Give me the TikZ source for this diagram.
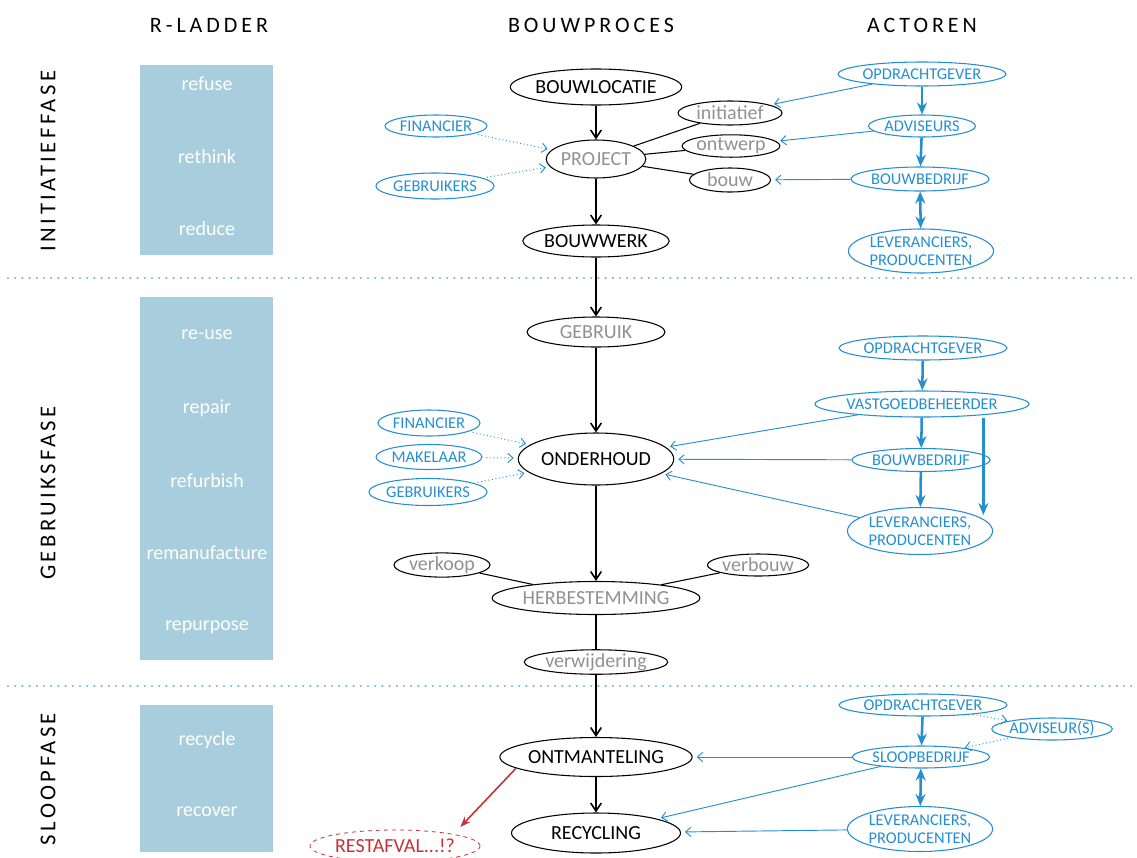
\documentclass[tikz,border=0pt]{standalone}
\usepackage{fontspec}
\setmainfont{Carlito}
\usetikzlibrary{arrows.meta,shapes.geometric}

\definecolor{actblue}{RGB}{36,143,208}
\definecolor{procgray}{RGB}{145,145,145}
\definecolor{ladderblue}{RGB}{168,206,221}
\definecolor{sepblue}{RGB}{120,182,210}
\definecolor{wastered}{RGB}{196,50,55}

\newfontfamily\spacedfont[LetterSpace=18]{Carlito}
\newfontfamily\phasefont[LetterSpace=15]{Carlito}

\begin{document}
\begin{tikzpicture}[x=0.75pt,y=-0.75pt,
	wd/.style={minimum width=#1*0.75pt},
	ht/.style={minimum height=#1*0.75pt},
	head/.style={font=\spacedfont\fontsize{16.5}{18}\selectfont},
	phase/.style={font=\phasefont\fontsize{17}{18}\selectfont,rotate=90},
	rung/.style={text=white,font=\fontsize{15}{16}\selectfont},
	stage/.style={ellipse,draw,line width=0.8pt,inner sep=0pt,font=\fontsize{15}{16}\selectfont},
	substage/.style={stage,text=procgray},
	actor/.style={ellipse,draw=actblue,line width=0.8pt,inner sep=0pt,text=actblue,align=center,font=\fontsize{12.3}{13.5}\selectfont},
	waste/.style={ellipse,draw=wastered,dashed,line width=0.6pt,inner sep=0pt,text=wastered,font=\fontsize{15}{16}\selectfont},
	flow/.style={line width=1.2pt,-{Straight Barb[length=6pt,width=8pt,line width=1.2pt]}},
	link/.style={line width=0.8pt},
	chain/.style={actblue,line width=1.9pt,-{Stealth[length=9pt,width=7.5pt]}},
	chainboth/.style={actblue,line width=1.9pt,{Stealth[length=9pt,width=7.5pt]}-{Stealth[length=9pt,width=7.5pt]}},
	role/.style={actblue,line width=0.7pt,-{Straight Barb[length=4pt,width=7pt]},shorten >=3pt},
	hint/.style={actblue,line width=0.7pt,dotted,-{Straight Barb[length=4pt,width=7pt]},shorten >=3pt,shorten <=3pt},
	separator/.style={sepblue,line width=1.8pt,line cap=round,dash pattern=on 0pt off 5.4pt}]

	\useasboundingbox (0,0) rectangle (1137,857);

	% kopjes
	\node[head] (hladder) at (209,25) {R-LADDER};
	\node[head] (hproces) at (591,25) {BOUWPROCES};
	\node[head] (hactor) at (922,25) {ACTOREN};

	\node[phase] (pinit) at (48,161) {INITIATIEFFASE};
	\node[phase] (pgebr) at (48,493) {GEBRUIKSFASE};
	\node[phase] (psloop) at (48,779) {SLOOPFASE};

	% scheidingslijnen
	\draw[separator] (8,278) -- (1137,278);
	\draw[separator] (8,686) -- (1137,686);

	% R-ladder
	\fill[ladderblue] (140,65) rectangle (273,255);
	\fill[ladderblue] (140,297) rectangle (273,660);
	\fill[ladderblue] (140,705) rectangle (273,852);
	\node[rung] (rrefuse) at (207,84) {refuse};
	\node[rung] (rrethink) at (207,157) {rethink};
	\node[rung] (rreduce) at (207,229) {reduce};
	\node[rung] (rreuse) at (207,335) {re-use};
	\node[rung] (rrepair) at (207,408) {repair};
	\node[rung] (rrefurb) at (207,481) {refurbish};
	\node[rung] (rreman) at (207,553) {remanufacture};
	\node[rung] (rrepurp) at (207,627) {repurpose};
	\node[rung] (rrecycle) at (207,740) {recycle};
	\node[rung] (rrecover) at (207,812) {recover};

	% bouwproces
	\node[stage,wd=138,ht=36] (locatie) at (596,87) {BOUWLOCATIE};
	\node[substage,wd=94,ht=38] (project) at (596,159) {PROJECT};
	\node[stage,wd=138,ht=32] (bouwwerk) at (596,241) {BOUWWERK};
	\node[substage,wd=138,ht=30] (gebruik) at (596,332) {GEBRUIK};
	\node[stage,wd=139,ht=52] (onderhoud) at (596,459) {ONDERHOUD};
	\node[substage,wd=196,ht=33] (herbest) at (596,598) {HERBESTEMMING};
	\node[substage,wd=124,ht=24] (verwijd) at (596,662) {verwijdering};
	\node[stage,wd=169,ht=39] (ontmant) at (596,757) {ONTMANTELING};
	\node[stage,wd=169,ht=40] (recycling) at (596,833) {RECYCLING};
	\node[waste,wd=170,ht=32] (restafval) at (395,846) {RESTAFVAL...!?};

	\node[substage,wd=104,ht=24] (initiatief) at (730,113) {initiatief};
	\node[substage,wd=94,ht=22] (ontwerp) at (731,146) {ontwerp};
	\node[substage,wd=81,ht=24] (bouw) at (730,180) {bouw};
	\node[substage,wd=96,ht=24] (verkoop) at (442,565) {verkoop};
	\node[substage,wd=95,ht=22] (verbouw) at (758,565) {verbouw};

	\draw[flow] (locatie) -- (project);
	\draw[flow] (project) -- (bouwwerk);
	\draw[flow] (bouwwerk) -- (gebruik);
	\draw[flow] (gebruik) -- (onderhoud);
	\draw[flow] (onderhoud) -- (herbest);
	\draw[link] (herbest) -- (verwijd);
	\draw[flow] (verwijd) -- (ontmant);
	\draw[flow] (ontmant) -- (recycling);
	\draw[wastered,line width=1.2pt,-{Stealth[length=8pt,width=6pt]}] (ontmant.188) -- ([xshift=49pt,yshift=2pt]restafval.north);

	\draw[link] (project) -- (initiatief);
	\draw[link] (project) -- (ontwerp);
	\draw[link] (project) -- (bouw);
	\draw[link] (herbest) -- (verkoop);
	\draw[link] (herbest) -- (verbouw);

	% actoren initiatieffase
	\node[actor,wd=99,ht=22] (financier) at (436,126) {FINANCIER};
	\node[actor,wd=100,ht=26] (gebruikers) at (435,186) {GEBRUIKERS};
	\node[actor,wd=140,ht=24] (opdracht) at (922,74) {OPDRACHTGEVER};
	\node[actor,wd=107,ht=22] (adviseurs) at (922,126) {ADVISEURS};
	\node[actor,wd=122,ht=24] (bouwbedrijf) at (920,179) {BOUWBEDRIJF};
	\node[actor,wd=133,ht=44] (leveranciers) at (921,251) {LEVERANCIERS,\\PRODUCENTEN};

	\draw[chain] (opdracht) -- (adviseurs);
	\draw[chain] (adviseurs) -- (bouwbedrijf);
	\draw[chainboth] (bouwbedrijf) -- (leveranciers);
	\draw[role] (opdracht) -- (initiatief);
	\draw[role] (adviseurs) -- (ontwerp);
	\draw[role] (bouwbedrijf) -- (bouw);
	\draw[hint] (financier) -- (project);
	\draw[hint] (gebruikers) -- (project);

	% actoren gebruiksfase
	\node[actor,wd=100,ht=26] (financierB) at (429,423) {FINANCIER};
	\node[actor,wd=100,ht=25] (makelaar) at (429,457) {MAKELAAR};
	\node[actor,wd=100,ht=27] (gebruikersB) at (428,492) {GEBRUIKERS};
	\node[actor,wd=139,ht=24] (opdrachtB) at (923,348) {OPDRACHTGEVER};
	\node[actor,wd=169,ht=26] (vastgoed) at (922,404) {VASTGOEDBEHEERDER};
	\node[actor,wd=117,ht=23] (bouwbedrijfB) at (921,460) {BOUWBEDRIJF};
	\node[actor,wd=135,ht=47] (leveranciersB) at (920,531) {LEVERANCIERS,\\PRODUCENTEN};

	\draw[chain] (opdrachtB) -- (vastgoed);
	\draw[chain] (vastgoed) -- (bouwbedrijfB);
	\draw[chain] (bouwbedrijfB) -- (leveranciersB);
	\draw[chain] ([xshift=46pt]vastgoed.south) -- ([xshift=46pt,yshift=-6pt]vastgoed.south |- leveranciersB.north);
	\draw[role] (vastgoed) -- (onderhoud);
	\draw[role] (bouwbedrijfB) -- (onderhoud);
	\draw[role] (leveranciersB) -- (onderhoud);
	\draw[hint] (financierB) -- (onderhoud);
	\draw[hint] (makelaar) -- (onderhoud);
	\draw[hint] (gebruikersB) -- (onderhoud);

	% actoren sloopfase
	\node[actor,wd=140,ht=22] (opdrachtC) at (923,705) {OPDRACHTGEVER};
	\node[actor,wd=107,ht=22] (adviseur) at (1052,729) {ADVISEUR(S)};
	\node[actor,wd=117,ht=22] (sloopbedrijf) at (921,757) {SLOOPBEDRIJF};
	\node[actor,wd=130,ht=45] (leveranciersC) at (920,829) {LEVERANCIERS,\\PRODUCENTEN};

	\draw[chain] (opdrachtC) -- (sloopbedrijf);
	\draw[chainboth] (sloopbedrijf) -- (leveranciersC);
	\draw[hint,shorten <=0pt,shorten >=1pt] (opdrachtC) -- (adviseur);
	\draw[hint,shorten <=0pt,shorten >=1pt] (adviseur) -- (sloopbedrijf);
	\draw[role] (sloopbedrijf) -- (ontmant);
	\draw[role] (sloopbedrijf) -- (recycling);
	\draw[role] (leveranciersC) -- (recycling);

\end{tikzpicture}
\end{document}
